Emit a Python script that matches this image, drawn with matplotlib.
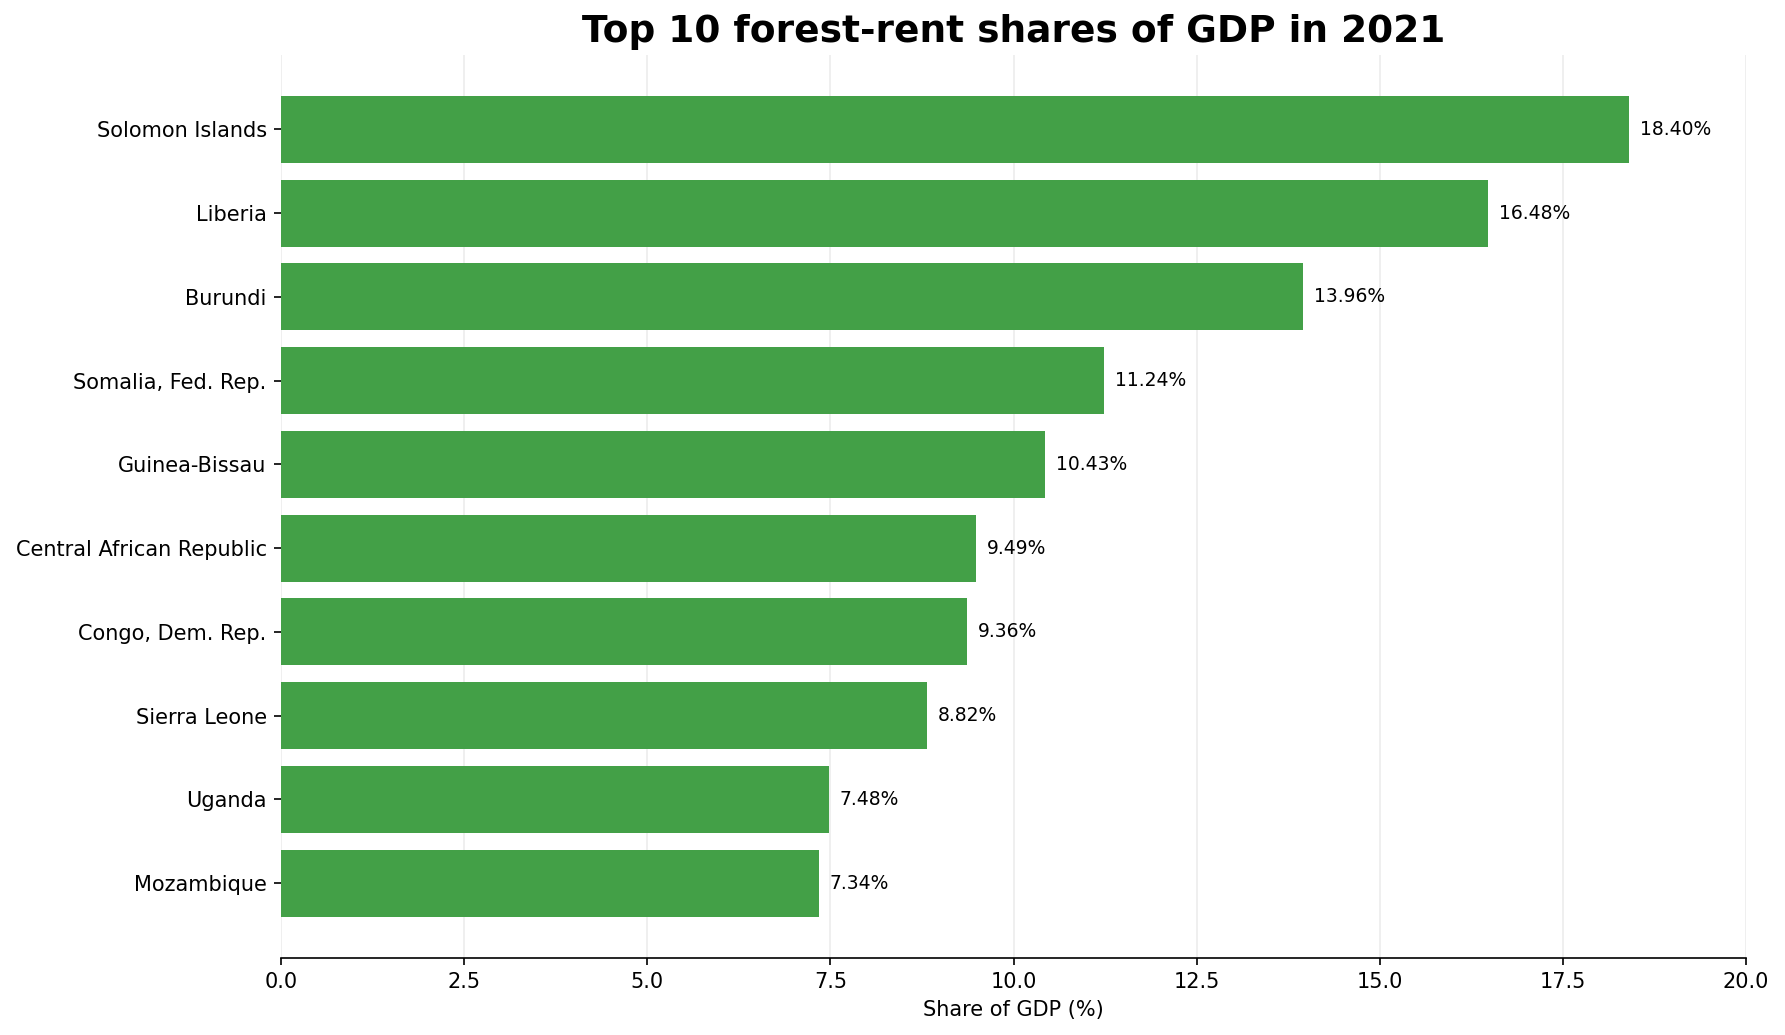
import matplotlib.pyplot as plt

countries = ["Solomon Islands", "Liberia", "Burundi", "Somalia, Fed. Rep.", "Guinea-Bissau",
             "Central African Republic", "Congo, Dem. Rep.", "Sierra Leone", "Uganda", "Mozambique"]
shares = [18.40, 16.48, 13.96, 11.24, 10.43, 9.49, 9.36, 8.82, 7.48, 7.34]

fig, ax = plt.subplots(figsize=(11.9, 6.9), dpi=150)
fig.subplots_adjust(left=0.1576, right=0.978, bottom=0.0748, top=0.947)

ypos = list(range(len(countries)))
ax.barh(ypos, shares, height=0.8, color="#43a047", zorder=2)
ax.set_yticks(ypos)
ax.set_yticklabels(countries, fontsize=10)
ax.invert_yaxis()

for y, v in zip(ypos, shares):
    ax.text(v + 0.15, y, f"{v:.2f}%", va="center", ha="left", fontsize=9)

ax.set_xlim(0, 20)
ax.set_xlabel("Share of GDP (%)", fontsize=10)
ax.set_title("Top 10 forest-rent shares of GDP in 2021", fontsize=18, fontweight="bold")
ax.grid(axis="x", color="#ececec", linewidth=0.8, zorder=0)
for s in ["top", "right", "left"]:
    ax.spines[s].set_visible(False)
ax.tick_params(axis="both", labelsize=10)

fig.savefig("out.png", dpi=150)
